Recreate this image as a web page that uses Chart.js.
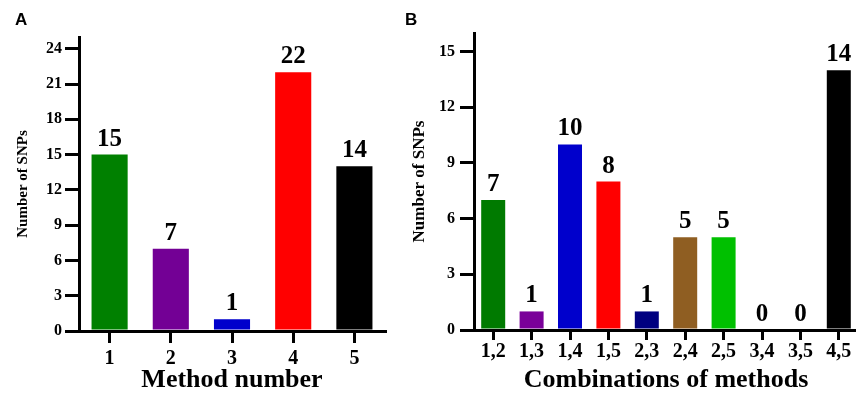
<!DOCTYPE html>
<html>
<head>
<meta charset="utf-8">
<script src="https://cdn.jsdelivr.net/npm/chart.js@4.4.0/dist/chart.umd.min.js"></script>
<style>
  html, body { margin: 0; padding: 0; background: #fff; }
  body { width: 856px; height: 393px; overflow: hidden; position: relative; }
  canvas { position: absolute; top: 0; }
  #chartA { left: 0; }
  #chartB { left: 400px; }
  .panel { position: absolute; font: bold 17px "Liberation Sans", Arial, sans-serif; line-height: 17px; color: #000; }
</style>
</head>
<body>
<canvas id="chartA" width="400" height="393"></canvas>
<canvas id="chartB" width="460" height="393"></canvas>
<div class="panel" style="left:15px; top:11px">A</div>
<div class="panel" style="left:405px; top:11px">B</div>
<script>
const methodLabels = ["1", "2", "3", "4", "5"]
const methodCounts = [15, 7, 1, 22, 14]
const methodColors = ["#008000", "#730095", "#0000cc", "#ff0000", "#000000"]

const comboLabels = ["1,2", "1,3", "1,4", "1,5", "2,3", "2,4", "2,5", "3,4", "3,5", "4,5"]
const comboCounts = [7, 1, 10, 8, 1, 5, 5, 0, 0, 14]
const comboColors = ["#007a00", "#7a0099", "#0000cc", "#ff0000", "#000080", "#8f5e22", "#00c000", "#808080", "#808080", "#000000"]

const serif = "'Liberation Serif', 'Times New Roman', serif"
Chart.defaults.color = "#000"
Chart.defaults.font.family = serif

// numbers above the bars
const valueLabels = {
  id: "valueLabels",
  afterDatasetsDraw(chart) {
    const ctx = chart.ctx
    const values = chart.data.datasets[0].data
    ctx.save()
    ctx.font = "bold 25px " + serif
    ctx.fillStyle = "#000"
    ctx.textAlign = "center"
    ctx.textBaseline = "alphabetic"
    chart.getDatasetMeta(0).data.forEach((bar, i) => {
      ctx.fillText(values[i], bar.x, bar.y - 9)
    })
    ctx.restore()
  }
}

const makeChart = (id, labels, counts, colors, opts) => {
  return new Chart(id, {
    type: "bar",
    data: {
      labels: labels,
      datasets: [{
        data: counts,
        backgroundColor: colors,
        barPercentage: opts.barPercentage,
        categoryPercentage: 1
      }]
    },
    plugins: [valueLabels],
    options: {
      responsive: false,
      animation: false,
      layout: { padding: opts.padding },
      plugins: {
        legend: { display: false },
        tooltip: { enabled: false }
      },
      scales: {
        x: {
          afterFit: (scale) => { scale.height = opts.xHeight },
          grid: {
            offset: false,
            drawOnChartArea: false,
            tickLength: opts.xTickLength,
            lineWidth: 3,
            color: "#000"
          },
          border: { display: true, width: 3, color: "#000" },
          ticks: {
            padding: opts.xTickPadding,
            font: { size: opts.xTickSize, weight: "bold" }
          },
          title: {
            display: true,
            text: opts.xTitle,
            font: { size: 26, weight: "bold", lineHeight: 1 },
            padding: 0
          }
        },
        y: {
          min: 0,
          max: opts.yMax,
          afterFit: (scale) => { scale.width = opts.yWidth },
          grid: {
            drawOnChartArea: false,
            tickLength: 14,
            lineWidth: 3,
            color: "#000"
          },
          border: { display: true, width: 3, color: "#000" },
          ticks: {
            stepSize: 3,
            includeBounds: false,
            padding: opts.yTickPadding,
            font: { size: 16, weight: "bold" }
          },
          title: {
            display: true,
            text: "Number of SNPs",
            font: { size: opts.yTitleSize, weight: "bold" },
            padding: { top: opts.yTitlePad, bottom: 0 }
          }
        }
      }
    }
  })
}

makeChart("chartA", methodLabels, methodCounts, methodColors, {
  barPercentage: 0.59,
  padding: { left: 0, top: 37, right: 15, bottom: 0 },
  xHeight: 62,
  yWidth: 79,
  yMax: 25,
  xTickLength: 12,
  xTickPadding: 4,
  xTickSize: 20,
  yTickPadding: 3,
  yTitleSize: 15,
  yTitlePad: 14,
  xTitle: "Method number"
})

makeChart("chartB", comboLabels, comboCounts, comboColors, {
  barPercentage: 0.625,
  padding: { left: 0, top: 33, right: 2, bottom: 0 },
  xHeight: 63,
  yWidth: 74,
  yMax: 16,
  xTickLength: 10,
  xTickPadding: 0,
  xTickSize: 20,
  yTickPadding: 5,
  yTitleSize: 17,
  yTitlePad: 9,
  xTitle: "Combinations of methods"
})
</script>
</body>
</html>
